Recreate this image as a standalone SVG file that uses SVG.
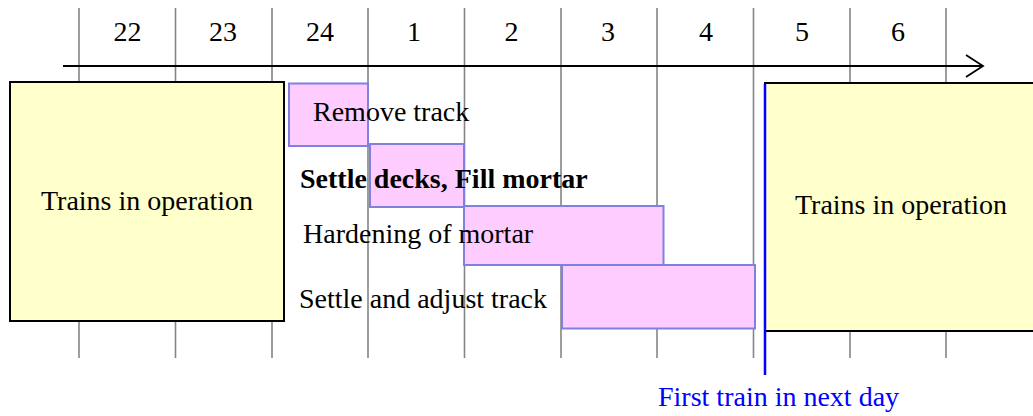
<svg xmlns="http://www.w3.org/2000/svg" width="1033" height="416" viewBox="0 0 1033 416">
<style>
  .grid { stroke: #858585; stroke-width: 1.6; fill: none; }
  .t { font-family: "Liberation Serif", "Times New Roman", serif; font-size: 28px; fill: #000; }
  .num { text-anchor: middle; }
  .mid { text-anchor: middle; }
  .yel { fill: #FFFFCC; stroke: #000; stroke-width: 2; }
  .pink { fill: #FFCCFF; stroke: #8080E0; stroke-width: 2; }
</style>
<defs>
  <marker id="open" viewBox="0 0 20 24" refX="18" refY="12" markerWidth="20" markerHeight="24" markerUnits="userSpaceOnUse" orient="auto">
    <path d="M1,1 L18,12 L1,23" fill="none" stroke="#000" stroke-width="1.8"/>
  </marker>
</defs>
<rect width="1033" height="416" fill="#fff"/>
<g id="grid">
  <line class="grid" x1="79" y1="8" x2="79" y2="358"/>
  <line class="grid" x1="175.5" y1="8" x2="175.5" y2="358"/>
  <line class="grid" x1="272" y1="8" x2="272" y2="358"/>
  <line class="grid" x1="368" y1="8" x2="368" y2="358"/>
  <line class="grid" x1="464.5" y1="8" x2="464.5" y2="358"/>
  <line class="grid" x1="561" y1="8" x2="561" y2="358"/>
  <line class="grid" x1="657" y1="8" x2="657" y2="358"/>
  <line class="grid" x1="753.5" y1="8" x2="753.5" y2="358"/>
  <line class="grid" x1="850" y1="8" x2="850" y2="358"/>
  <line class="grid" x1="946" y1="8" x2="946" y2="358"/>
</g>
<g id="hours" class="t num">
  <text x="127.5" y="41">22</text>
  <text x="223" y="41">23</text>
  <text x="320" y="41">24</text>
  <text x="414" y="41">1</text>
  <text x="511.5" y="41">2</text>
  <text x="608" y="41">3</text>
  <text x="706" y="41">4</text>
  <text x="802" y="41">5</text>
  <text x="898" y="41">6</text>
</g>
<g id="connectors">
  <line x1="63" y1="66" x2="983" y2="66" stroke="#000" stroke-width="1.8" marker-end="url(#open)"/>
</g>
<g id="trains-before">
  <rect class="yel" x="10" y="82" width="274" height="239"/>
  <text class="t mid" x="147" y="210">Trains in operation</text>
</g>
<g id="trains-after">
  <rect class="yel" x="765" y="83" width="275" height="248"/>
  <text class="t mid" x="901" y="214">Trains in operation</text>
</g>
<g id="remove-track">
  <rect class="pink" x="289" y="83.5" width="79" height="62.5"/>
</g>
<g id="settle-decks">
  <rect class="pink" x="370" y="144" width="94" height="63"/>
</g>
<g id="hardening">
  <rect class="pink" x="464" y="206" width="199.5" height="59"/>
</g>
<g id="settle-track">
  <rect class="pink" x="562" y="265" width="193" height="63.5"/>
</g>
<g id="first-train">
  <line x1="765" y1="84" x2="765" y2="375" stroke="#0000FF" stroke-width="2.5"/>
  <text class="t" x="658" y="406" style="fill:#0000FF">First train in next day</text>
</g>
<g id="labels" class="t">
  <text x="313" y="121">Remove track</text>
  <text x="300" y="188" font-weight="bold">Settle decks, Fill mortar</text>
  <text x="303" y="243">Hardening of mortar</text>
  <text x="299" y="308">Settle and adjust track</text>
</g>
</svg>
